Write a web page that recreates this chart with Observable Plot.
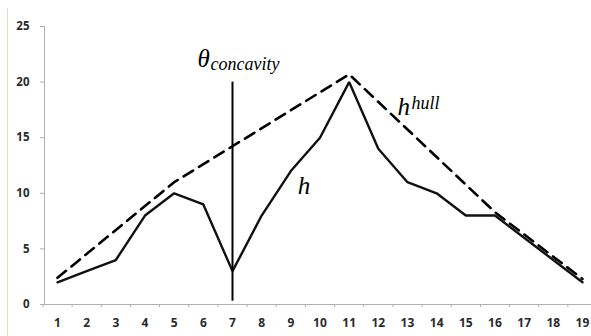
<!DOCTYPE html>
<html>
<head>
<meta charset="utf-8">
<script src="https://cdn.jsdelivr.net/npm/d3@7"></script>
<script src="https://cdn.jsdelivr.net/npm/@observablehq/plot@0.6"></script>
<style>
  html, body { margin: 0; padding: 0; background: #fff; }
  #chart { width: 591px; height: 336px; position: relative; }
  #chart::before { content: ""; position: absolute; left: 7px; top: 8px; bottom: 0; width: 1px; background: #e6dccb; }
</style>
</head>
<body>
<div id="chart"></div>
<script>
const positions = [1,2,3,4,5,6,7,8,9,10,11,12,13,14,15,16,17,18,19];
const hValues   = [2,3,4,8,10,9,3,8,12,15,20,14,11,10,8,8,6,4,2];
const hullX     = [1, 5, 11, 16, 19];
const hullY     = [2.4, 11, 20.7, 8.3, 2.3];
const thresholdX = 7;
const thresholdRange = [0.3, 20];
const yTicks = [0, 5, 10, 15, 20, 25];

const hData = positions.map((x, i) => ({x, y: hValues[i]}));
const hullData = hullX.map((x, i) => ({x, y: hullY[i]}));
const halfTicks = positions.map(p => p + 0.5).concat([0.5]);

const tickFont = "'Open Sans', 'DejaVu Sans', sans-serif";
const serif = "'Liberation Serif', 'DejaVu Serif', serif";
const annot = {ariaLabel: "annot", textAnchor: "start", fill: "#000", lineAnchor: "bottom", fontStyle: "italic", fontFamily: serif};

const plot = Plot.plot({
  width: 591,
  height: 336,
  marginLeft: 44,
  marginRight: 0,
  marginTop: 26,
  marginBottom: 32,
  x: {domain: [0.554, 19.31]},
  y: {domain: [0, 25]},
  style: {background: "transparent", overflow: "visible"},
  marks: [
    Plot.frame({anchor: "left", stroke: "#b0b0b0"}),
    Plot.ruleY([0], {stroke: "#b0b0b0"}),
    Plot.axisY({ticks: yTicks, tickSize: 4, tickPadding: 11, stroke: "#b0b0b0",
      fontSize: 11.5, fontWeight: "bold", fontFamily: tickFont, color: "#2a2a2a", label: null}),
    Plot.axisX({ticks: halfTicks, tickSize: 3, tickFormat: () => "", stroke: "#b0b0b0", label: null}),
    Plot.axisX({ticks: positions, tickSize: 0, tickPadding: 14, fontSize: 12, fontWeight: "bold",
      fontFamily: tickFont, color: "#2a2a2a", label: null}),
    Plot.line(hullData, {x: "x", y: "y", stroke: "#000", strokeWidth: 2.6, strokeDasharray: "11,7"}),
    Plot.line(hData, {x: "x", y: "y", stroke: "#111", strokeWidth: 2.4, strokeLinejoin: "miter"}),
    Plot.ruleX([thresholdX], {y1: thresholdRange[0], y2: thresholdRange[1], stroke: "#000", strokeWidth: 2}),
    // annotations
    Plot.text(["θ"], {...annot, x: [thresholdX], y: [20], text: d => d, dx: -35, dy: -15, fontSize: 25}),
    Plot.text(["concavity"], {...annot, x: [thresholdX], y: [20], text: d => d, dx: -22, dy: -12, fontSize: 18}),
    Plot.text(["h"], {...annot, x: [9], y: [hValues[8]], text: d => d, dx: 7, dy: 23, fontSize: 25}),
    Plot.text(["h"], {...annot, x: [13], y: [hValues[12]], text: d => d, dx: -10, dy: -67, fontSize: 25}),
    Plot.text(["hull"], {...annot, x: [13], y: [hValues[12]], text: d => d, dx: 4, dy: -73, fontSize: 18})
  ]
});
d3.select(plot).selectAll('text[aria-label="annot"], g[aria-label="annot"] text')
  .style("font-family", "'Liberation Serif', 'DejaVu Serif', serif")
  .style("font-style", "italic");
document.getElementById("chart").appendChild(plot);
</script>
</body>
</html>
